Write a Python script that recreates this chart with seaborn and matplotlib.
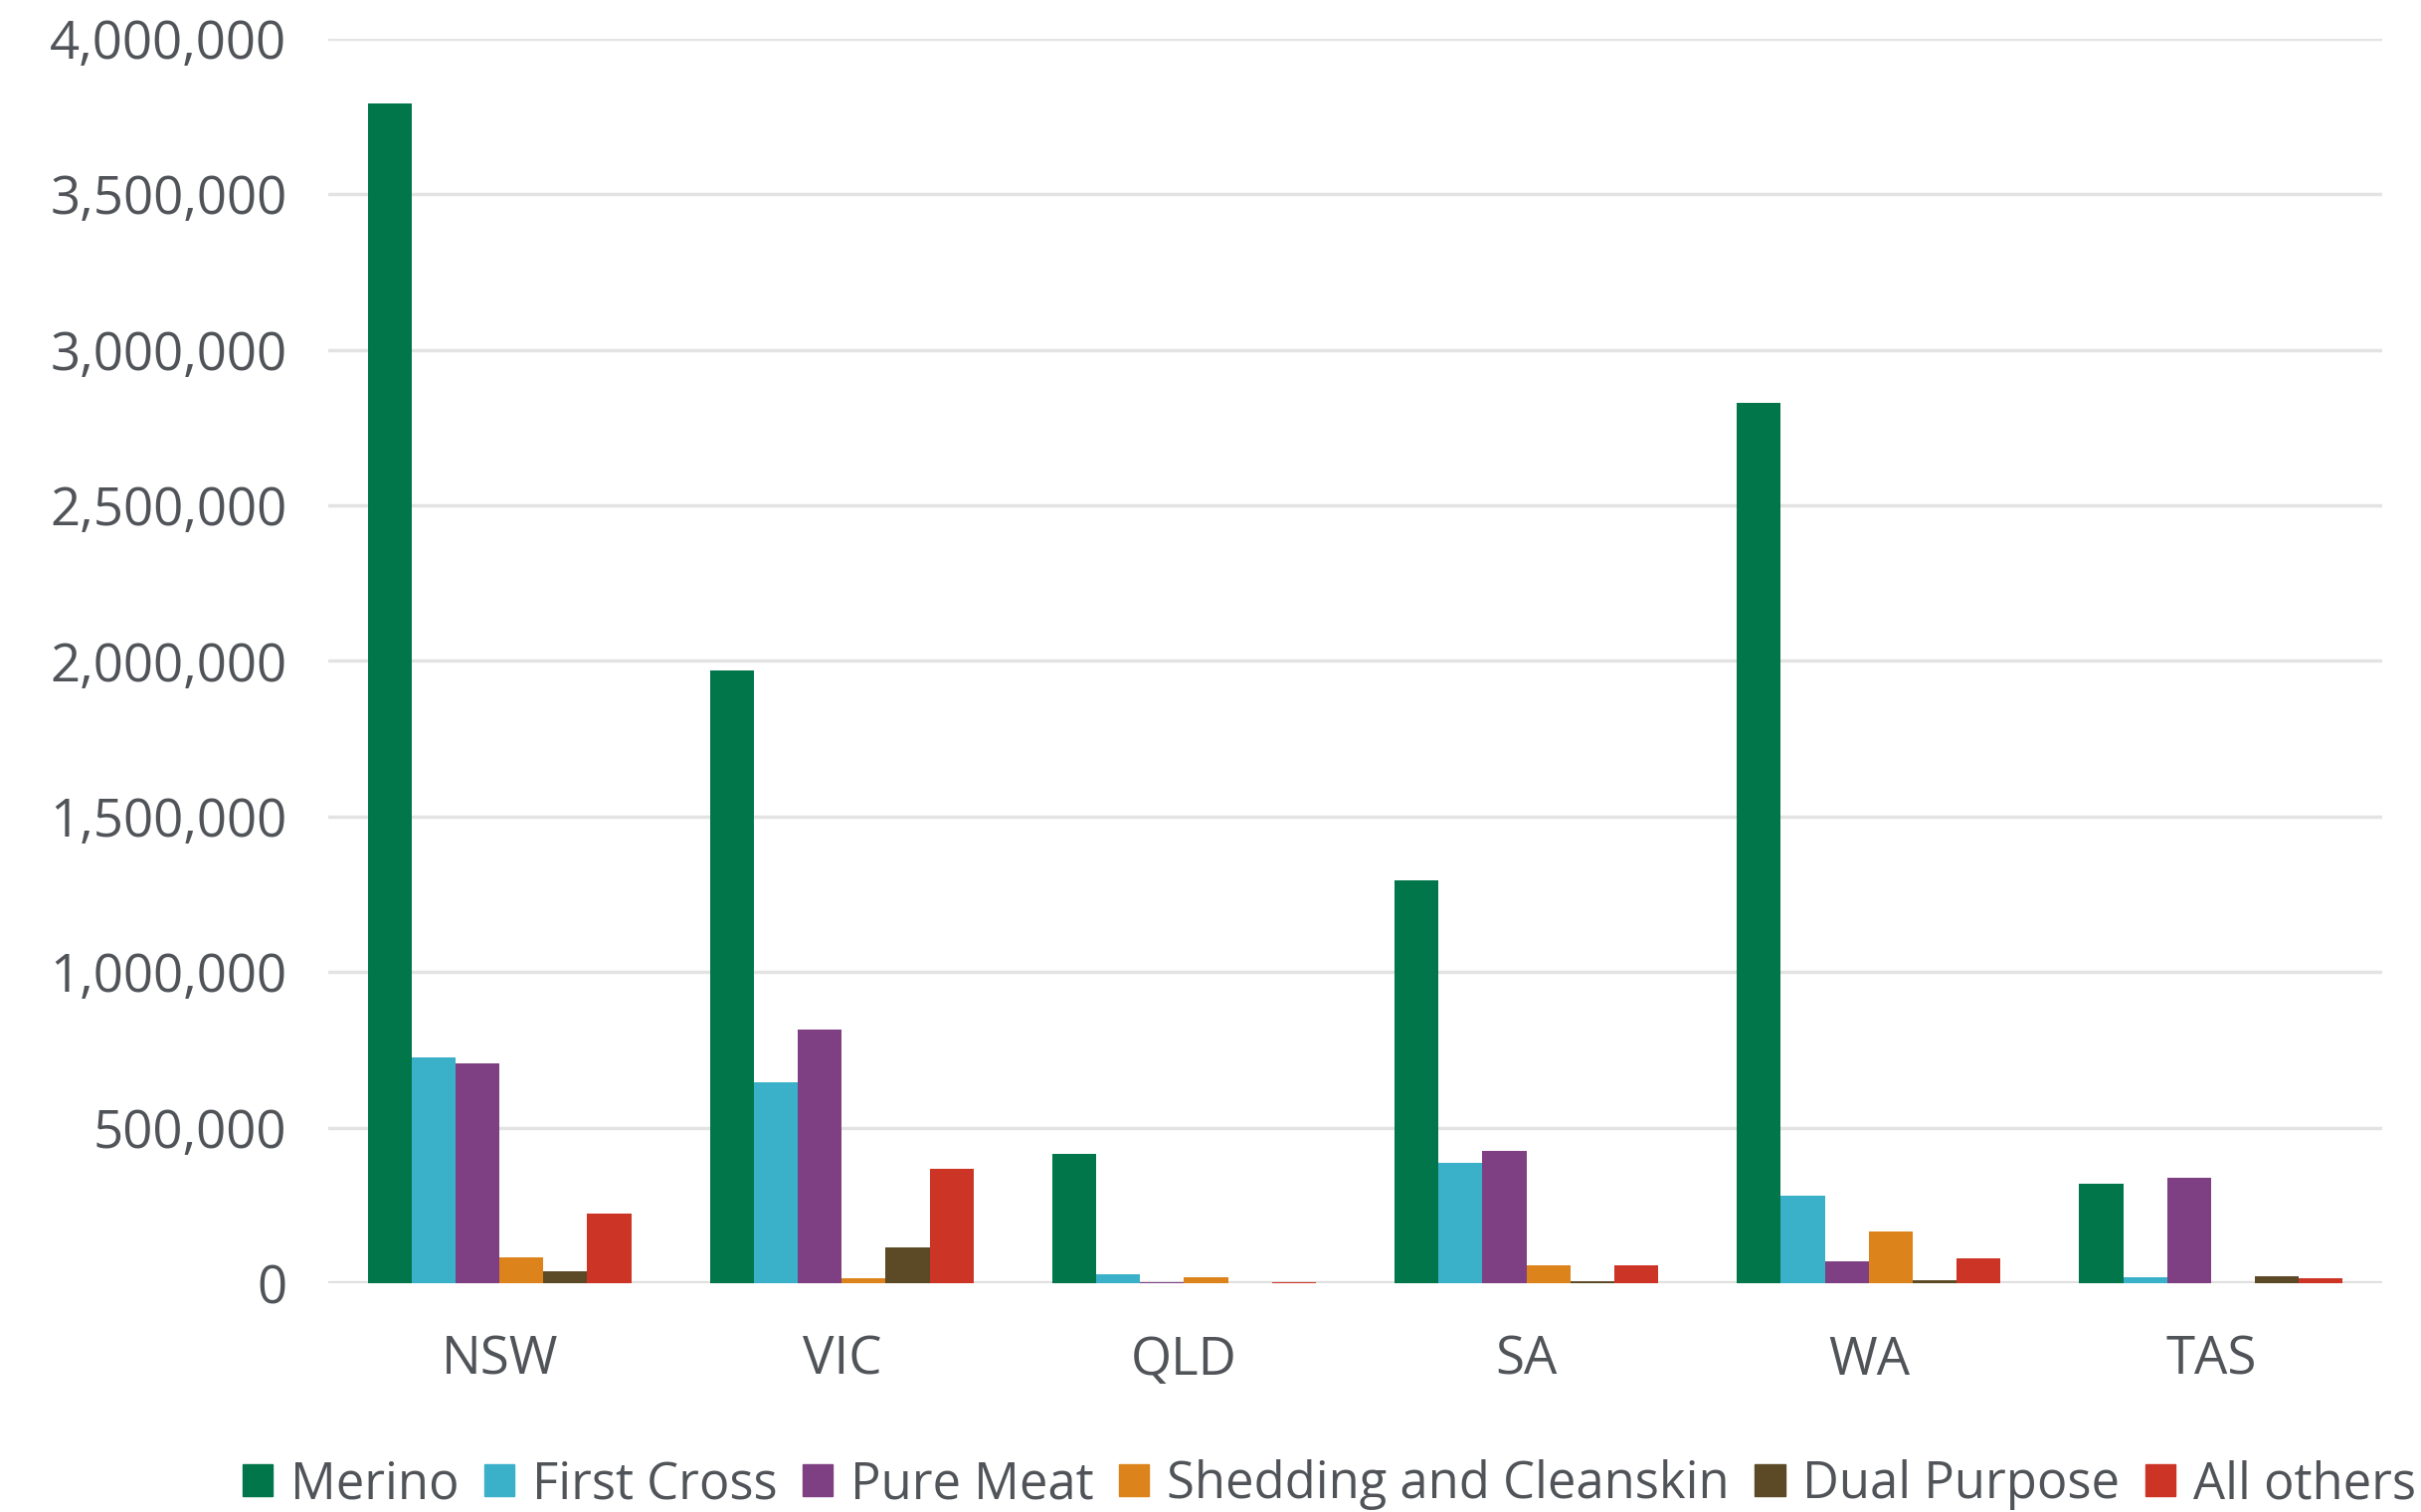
import pandas as pd
import matplotlib
matplotlib.use('Agg')
import matplotlib.pyplot as plt
from matplotlib.ticker import FuncFormatter
import seaborn as sns

states = ['NSW', 'VIC', 'QLD', 'SA', 'WA', 'TAS']
breeds = ['Merino', 'First Cross', 'Pure Meat', 'Shedding and Cleanskin', 'Dual Purpose', 'All others']

merino = [3790000, 1970000, 416000, 1295000, 2828000, 321000]
first_cross = [727000, 646000, 30000, 386000, 281000, 19000]
pure_meat = [706000, 815000, 3000, 426000, 71000, 338000]
shedding = [83000, 16000, 19000, 58000, 165000, 1000]
dual_purpose = [38000, 114000, 0, 6000, 11000, 22000]
all_others = [223000, 367000, 2000, 57000, 79000, 15000]

colors = ['#00764A', '#3BB0C9', '#7E4083', '#DC831B', '#5C4A27', '#CC3425']

series = [merino, first_cross, pure_meat, shedding, dual_purpose, all_others]
rows = []
for breed, vals in zip(breeds, series):
    for st, v in zip(states, vals):
        rows.append({'state': st, 'breed': breed, 'value': v})
df = pd.DataFrame(rows)

sns.set_theme(style='white')
plt.rcParams['font.family'] = ['Open Sans', 'DejaVu Sans']
text_col = '#505459'

fig = plt.figure(figsize=(24.34, 15.2), dpi=100)
ax = fig.add_axes([0.1356, 0.1513, 0.8484, 0.8232])

sns.barplot(data=df, x='state', y='value', hue='breed', order=states, hue_order=breeds,
            palette=colors, saturation=1, width=0.77, edgecolor='none', legend=False, ax=ax)

ax.set_ylim(0, 4000000)
ax.set_yticks(range(0, 4000001, 500000))
ax.yaxis.set_major_formatter(FuncFormatter(lambda v, p: f'{int(v):,}'))
ax.yaxis.grid(True, color='#E3E3E3', linewidth=2.5)
ax.set_axisbelow(True)
for s in ax.spines.values():
    s.set_visible(False)
ax.axhline(0, color='#DADADA', linewidth=3, zorder=0.5)
ax.set_xlim(-0.5, 5.5)
ax.set_xlabel('')
ax.set_ylabel('')
ax.tick_params(axis='y', length=0, pad=30, labelsize=38, labelcolor=text_col)
ax.tick_params(axis='x', length=0, pad=37, labelsize=38, labelcolor=text_col)

handles = [matplotlib.patches.Patch(color=c, label=b) for c, b in zip(colors, breeds)]
fig.legend(handles=handles, loc='center', ncol=6, bbox_to_anchor=(0.549, 0.018),
           frameon=False, fontsize=36.5, labelcolor=text_col, handlelength=0.6, handleheight=0.6,
           handletextpad=0.35, columnspacing=0.5, borderpad=0)

fig.savefig('out.png', dpi=100)
plt.close()
